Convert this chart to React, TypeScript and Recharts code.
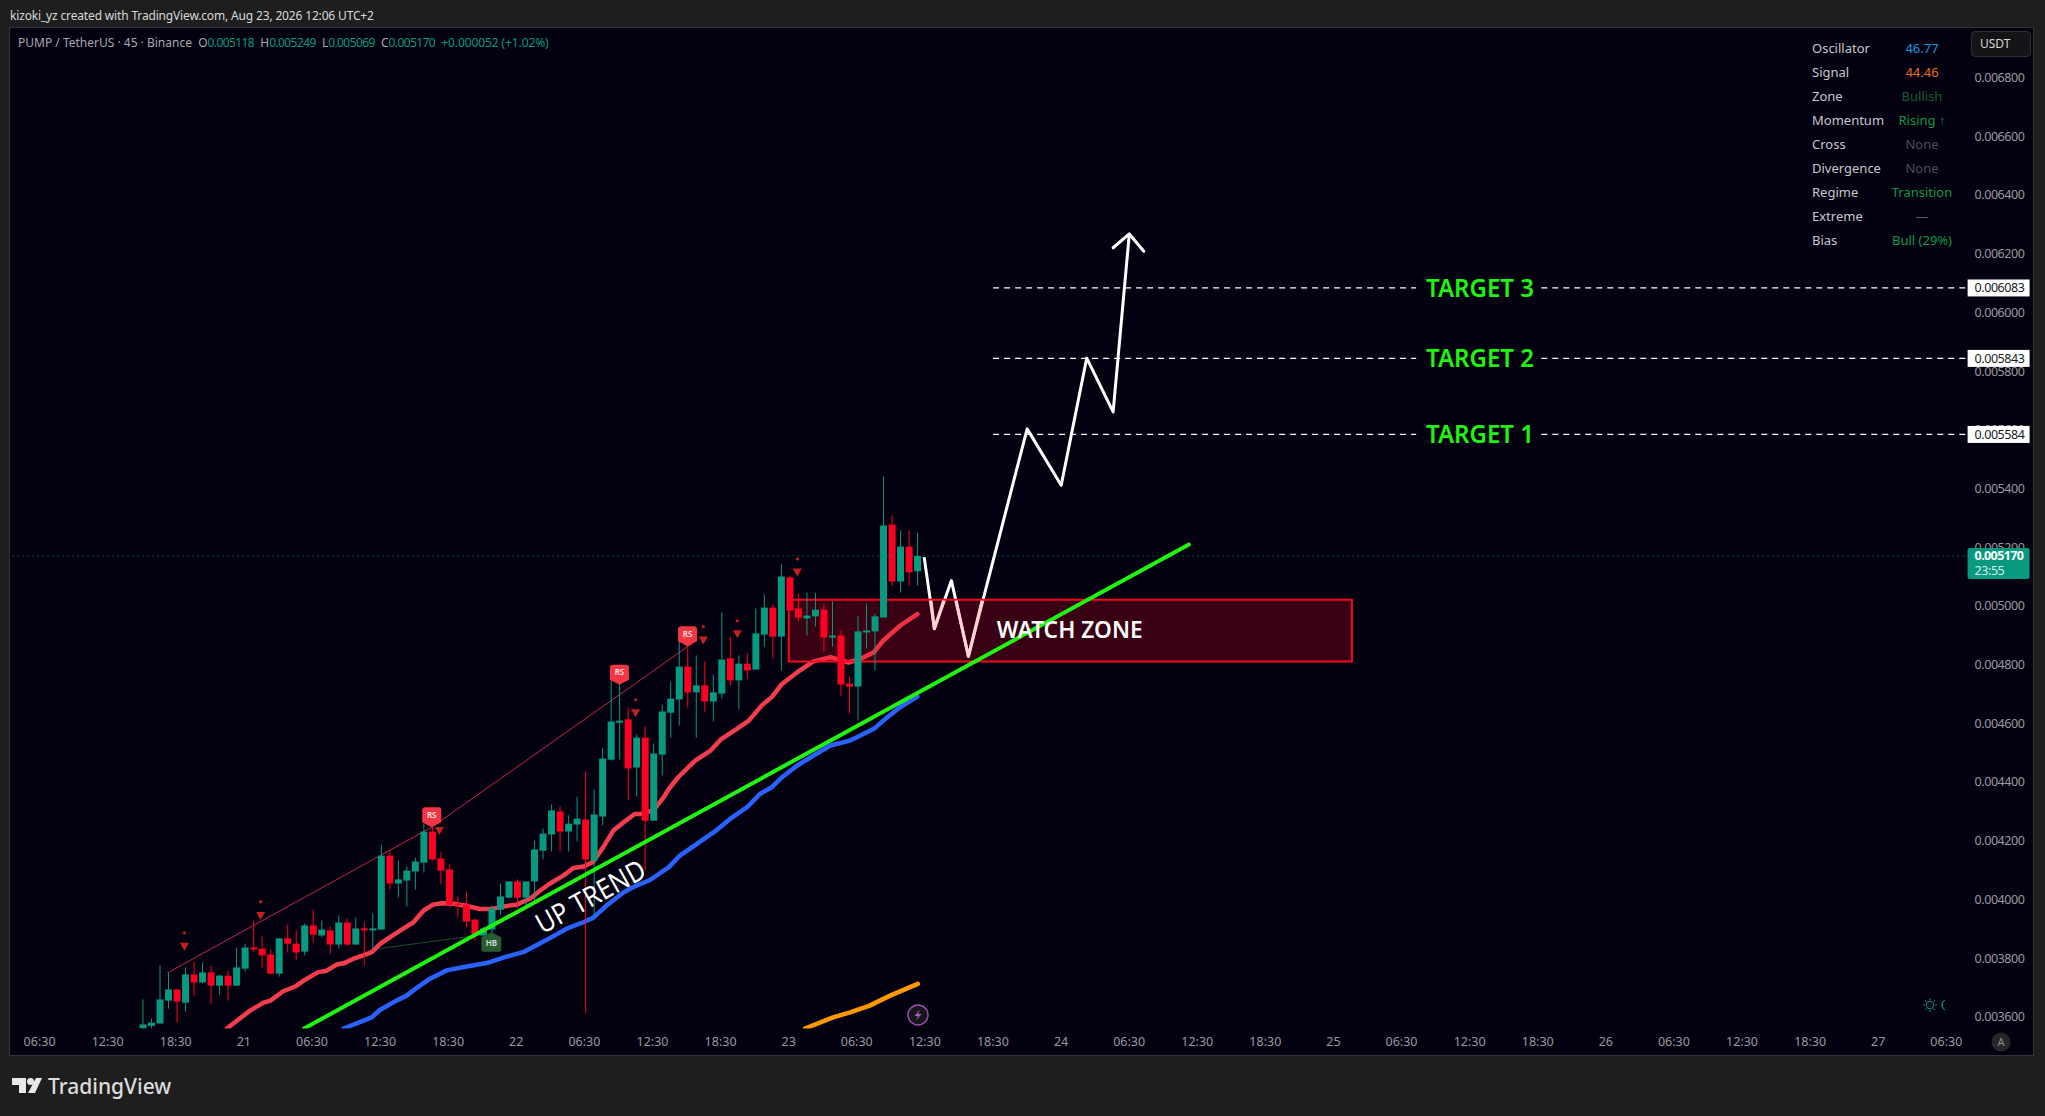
import {
  ComposedChart,
  Bar,
  Line,
  XAxis,
  YAxis,
  ReferenceArea,
  ReferenceDot,
  ReferenceLine,
} from "recharts";

// prices are in millionths of USDT (3659 = 0.003659)
const opens = [
  3560, 3569, 3577, 3655, 3693, 3648, 3744, 3717, 3751, 3706, 3740, 3706, 3764, 3836, 3832, 3812, 3747, 3867, 3849, 3822, 3911, 3877, 3894,
  3846, 3921, 3846, 3901, 3898, 3897, 4149, 4054, 4064, 4095, 4125, 4231, 4139, 4102, 3986, 3982, 3931, 3877, 3897, 3965, 4006, 4061, 4006,
  4061, 4166, 4221, 4299, 4231, 4255, 4272, 4132, 4282, 4476, 4602, 4613, 4449, 4551, 4268, 4493, 4636, 4681, 4793, 4705, 4729, 4674, 4701,
  4821, 4746, 4803, 4783, 4902, 4994, 4895, 5097, 4991, 4957, 4964, 4987, 4892, 4899, 4735, 4725, 4913, 4913, 4960, 5277, 5083, 5202, 5118,
];
const highs = [
  3659, 3594, 3775, 3750, 3693, 3768, 3788, 3785, 3774, 3744, 3757, 3836, 3849, 3928, 3873, 3829, 3867, 3914, 3894, 3918, 3965, 3928, 3907,
  3945, 3935, 3938, 3921, 3952, 4187, 4166, 4132, 4112, 4142, 4258, 4257, 4160, 4119, 4010, 4027, 3935, 3907, 3979, 4054, 4061, 4068, 4061,
  4200, 4241, 4323, 4316, 4286, 4350, 4436, 4374, 4517, 4755, 4745, 4654, 4562, 4589, 4531, 4664, 4742, 4882, 4865, 4831, 4810, 4766, 4977,
  4896, 4831, 4838, 4991, 5039, 5005, 5144, 5103, 5042, 5045, 5045, 5005, 5015, 4916, 4759, 4964, 5008, 4974, 5441, 5308, 5257, 5257, 5249,
];
const lows = [
  3559, 3560, 3577, 3628, 3580, 3618, 3672, 3713, 3645, 3676, 3655, 3706, 3754, 3822, 3768, 3744, 3737, 3819, 3792, 3809, 3853, 3870, 3815,
  3832, 3843, 3846, 3775, 3829, 3897, 4033, 4006, 3976, 4033, 4091, 4132, 4051, 3972, 3938, 3904, 3860, 3860, 3882, 3948, 4003, 3969, 3979,
  3996, 4136, 4163, 4163, 4163, 4197, 3611, 3941, 4252, 4473, 4476, 4337, 4350, 4098, 4268, 4422, 4551, 4592, 4654, 4551, 4640, 4606, 4684,
  4729, 4647, 4752, 4783, 4861, 4821, 4780, 4984, 4947, 4899, 4930, 4844, 4861, 4694, 4633, 4609, 4855, 4780, 4960, 5069, 5045, 5069, 5069,
];
const closes = [
  3574, 3580, 3659, 3693, 3652, 3744, 3717, 3751, 3706, 3740, 3706, 3768, 3836, 3834, 3809, 3747, 3867, 3849, 3819, 3911, 3880, 3897, 3846,
  3921, 3846, 3901, 3898, 3901, 4149, 4054, 4068, 4098, 4129, 4231, 4136, 4098, 3982, 3984, 3924, 3880, 3901, 3969, 4010, 4061, 4006, 4061,
  4170, 4224, 4303, 4231, 4258, 4275, 4136, 4289, 4480, 4606, 4609, 4446, 4551, 4268, 4497, 4640, 4684, 4793, 4705, 4729, 4674, 4705, 4817,
  4746, 4803, 4780, 4906, 4994, 4895, 5100, 4984, 4960, 4967, 4987, 4892, 4899, 4732, 4725, 4913, 4916, 4964, 5274, 5083, 5202, 5114, 5170,
];

// [bar position, price]
const redAverage = [
  [9.87, 3560], [12.6, 3621], [14.2, 3648], [15, 3655], [16.5, 3687], [17.9, 3703], [18.9, 3723], [20.6, 3752], [21.6, 3757], [22.8, 3778],
  [23.6, 3782], [24.7, 3797], [25.9, 3809], [26.9, 3820], [27.9, 3848], [29.05, 3871], [30.6, 3900], [31.8, 3922], [33, 3962], [34.1, 3982],
  [35.1, 3987], [36.5, 3985], [38.05, 3978], [39.6, 3967], [41, 3967], [42.4, 3976], [43.9, 3982], [45.5, 4002], [46.7, 4030], [47.8, 4053],
  [49.4, 4081], [50.6, 4107], [51.8, 4112], [52.9, 4127], [54.1, 4178], [55.3, 4235], [56.5, 4263], [57.8, 4291], [58.6, 4291], [60, 4303],
  [61.2, 4348], [61.8, 4376], [62.9, 4416], [64.9, 4473], [66.7, 4507], [68, 4547], [69.8, 4581], [71.2, 4609], [72.7, 4660], [73.9, 4689],
  [75.1, 4734], [76.9, 4774], [78.8, 4811], [80.8, 4825], [81.9, 4816], [82.9, 4807], [84.3, 4819], [85.9, 4842], [87, 4882], [89, 4933],
  [91, 4972],
];
const blueAverage = [
  [23.6, 3560], [26.9, 3598], [27.9, 3624], [29.8, 3655], [31, 3672], [32.4, 3703], [33.7, 3729], [35.7, 3758], [38.05, 3771], [40.4, 3783],
  [42.75, 3805], [44.7, 3820], [47.45, 3862], [49.8, 3900], [51.75, 3922], [52.9, 3937], [54.5, 3979], [56.5, 4024], [58, 4047], [59.6, 4066],
  [61.8, 4110], [63.1, 4149], [65.1, 4189], [67.1, 4229], [69, 4274], [71, 4314], [72.5, 4359], [73.9, 4382], [75.1, 4416], [76.9, 4456],
  [78.8, 4490], [80.8, 4524], [83.1, 4541], [85.9, 4581], [87, 4609], [89, 4655], [91, 4691],
];
const orangeAverage = [
  [77.8, 3560], [81.1, 3598], [83.1, 3615], [85.4, 3638], [87.8, 3672], [91.05, 3712],
];
const trendLine = [[18.95, 3560], [122.9, 5209]];
const forecastPath = [
  [91.8, 5166], [93, 4922], [95, 5086], [97, 4828], [103.9, 5603], [107.9, 5411], [110.9, 5844], [114, 5661], [115.9, 6267],
];
// the parts of the forecast that show through the zone tint
const forecastInZoneA = [[92.6, 5018], [93, 4922], [94.1, 5018]];
const forecastInZoneB = [[95.55, 5018], [97, 4828], [98.6, 5018]];
const forecastArrow = [[114, 6220], [115.9, 6267], [117.6, 6208]];
const channelLine = [[2.94, 3750], [33.95, 4246], [64.5, 4871]];
const hiddenBullLine = [[26.9, 3829], [40, 3880]];

const targetPrices = [6083, 5843, 5584];
const targetLabels = ["TARGET 3", "TARGET 2", "TARGET 1"];
const targetBars = [99.9, 149.6, 164.3, 214.5];
const targetTextBar = 157.1;

const zoneBars = [75.9, 142.05];
const zonePrices = [4810, 5021];
const lastPrice = 5170;

const sellTriangles = [
  [4.9, 3840], [13.85, 3945], [34.85, 4235], [57.9, 4636], [65.85, 4884], [69.85, 4905], [76.9, 5115],
];
const sellDots = [
  [4.9, 3886], [13.85, 3992], [57.9, 4680], [65.85, 4929], [69.85, 4949], [76.9, 5160],
];
const rsFlags = [[33.95, 4246], [56, 4731], [64, 4862]];
const hbFlags = [[40.95, 3888]];

const priceTicks = [3600, 3800, 4000, 4200, 4400, 4600, 4800, 5000, 5200, 5400, 5600, 5800, 6000, 6200, 6400, 6600, 6800];
const timeLabels = [
  "06:30", "12:30", "18:30", "21", "06:30", "12:30", "18:30", "22", "06:30", "12:30", "18:30", "23", "06:30", "12:30", "18:30",
  "24", "06:30", "12:30", "18:30", "25", "06:30", "12:30", "18:30", "26", "06:30", "12:30", "18:30", "27", "06:30",
];
const statNames = ["Oscillator", "Signal", "Zone", "Momentum", "Cross", "Divergence", "Regime", "Extreme", "Bias"];
const statValues = ["46.77", "44.46", "Bullish", "Rising ↑", "None", "None", "Transition", "—", "Bull (29%)"];
const statColors = ["#1c96e0", "#e8701c", "#14602e", "#0e9a48", "#4c4c5c", "#4c4c5c", "#0e9a48", "#5c5c66", "#0e9a48"];

const firstBar = -15;
const barCount = 230;
const rows = Array.from({ length: barCount }, (_, n) => {
  const slot = firstBar + n;
  if (slot < 0 || slot >= opens.length) return { slot };
  return { slot, open: opens[slot], close: closes[slot], range: [lows[slot], highs[slot]] };
});
const timeTicks = timeLabels.map((_, n) => -12 + n * 8);
const labelBySlot = new Map(timeTicks.map((t, n) => [t, timeLabels[n]]));
const points = (list: number[][]) => list.map(([x, price]) => ({ x, price }));

const GREEN = "#089981";
const RED = "#ff0022";
const BRIGHT_GREEN = "#1ff50f";
const FONT = "'Noto Sans', sans-serif";
const AXIS_TEXT = "#9a9a9e";
const AXIS_SPACING = -0.45;

function Candle(props: any) {
  const { x, y, width, height, payload } = props;
  if (!payload.range) return null;
  const [low, high] = payload.range;
  const perUnit = height / (high - low);
  const top = y + (high - Math.max(payload.open, payload.close)) * perUnit;
  const bottom = y + (high - Math.min(payload.open, payload.close)) * perUnit;
  const color = payload.close >= payload.open ? GREEN : RED;
  const mid = x + width / 2;
  return (
    <g>
      <line x1={mid} x2={mid} y1={y} y2={y + height} stroke={color} strokeWidth={1} />
      <rect x={mid - 3.5} y={top} width={7} height={Math.max(bottom - top, 2)} fill={color} />
    </g>
  );
}

function SellTriangle({ cx, cy }: any) {
  return <path d={`M${cx - 4.5} ${cy - 3.5} h9 l-4.5 8 z`} fill="#c4201f" />;
}

function SellDot({ cx, cy }: any) {
  return <circle cx={cx} cy={cy} r={1.6} fill="#c4201f" />;
}

function RsFlag({ cx, cy }: any) {
  return (
    <g>
      <path
        d={`M${cx} ${cy} l-9.5 -5 v-12 a3 3 0 0 1 3 -3 h13 a3 3 0 0 1 3 3 v12 z`}
        fill="#f23645"
      />
      <text x={cx} y={cy - 9.5} textAnchor="middle" fontSize={8} fontWeight={600} fontFamily={FONT} fill="#ffe3e3">
        RS
      </text>
    </g>
  );
}

function HbFlag({ cx, cy }: any) {
  return (
    <g>
      <path
        d={`M${cx} ${cy} l10 5 v12 a2.5 2.5 0 0 1 -2.5 2.5 h-15 a2.5 2.5 0 0 1 -2.5 -2.5 v-12 z`}
        fill="#2a5c34"
      />
      <text x={cx} y={cy + 14} textAnchor="middle" fontSize={8} fontWeight={600} fontFamily={FONT} fill="#d8e4da">
        HB
      </text>
    </g>
  );
}

function PriceTick({ x, y, payload }: any) {
  const value = payload.value;
  const text = (value / 1000000).toFixed(6);
  if (value === lastPrice) {
    return (
      <g>
        <rect x={x - 9} y={y - 8} width={62} height={31} rx={2} fill={GREEN} />
        <text x={x - 2} y={y + 4} fontSize={12.5} fontWeight={700} letterSpacing={-0.6} fontFamily={FONT} fill="#ffffff">
          {text}
        </text>
        <text x={x - 2} y={y + 19} fontSize={12.5} letterSpacing={AXIS_SPACING} fontFamily={FONT} fill="#d5efe9">
          23:55
        </text>
      </g>
    );
  }
  if (targetPrices.includes(value)) {
    return (
      <g>
        <rect x={x - 9} y={y - 8.5} width={62} height={17} fill="#ffffff" />
        <text x={x - 2} y={y + 4.5} fontSize={12.5} letterSpacing={AXIS_SPACING} fontFamily={FONT} fill="#1a1a1a">
          {text}
        </text>
      </g>
    );
  }
  return (
    <text x={x - 2} y={y + 4.5} fontSize={12.5} letterSpacing={AXIS_SPACING} fontFamily={FONT} fill={AXIS_TEXT}>
      {text}
    </text>
  );
}

function TimeTick({ x, y, payload }: any) {
  return (
    <text x={x - 1} y={y + 9} textAnchor="middle" fontSize={12.5} fontFamily={FONT} fill={AXIS_TEXT}>
      {labelBySlot.get(payload.value)}
    </text>
  );
}

function drawing(key: string, list: number[][], color: string, width: number, extra: any = {}) {
  return (
    <Line
      key={key}
      xAxisId="bars"
      data={points(list)}
      dataKey="price"
      stroke={color}
      strokeWidth={width}
      dot={false}
      activeDot={false}
      legendType="none"
      isAnimationActive={false}
      strokeLinejoin="round"
      strokeLinecap="round"
      {...extra}
    />
  );
}

function marks(key: string, list: number[][], mark: any) {
  return (
    <Line
      key={key}
      xAxisId="bars"
      data={points(list)}
      dataKey="price"
      stroke="none"
      dot={mark}
      activeDot={false}
      isAnimationActive={false}
      zIndex={900}
    />
  );
}

export default function App() {
  return (
    <div
      style={{
        position: "absolute",
        left: 0,
        top: 0,
        width: 2045,
        height: 1116,
        overflow: "hidden",
        background: "#1e1e1e",
        fontFamily: FONT,
      }}
    >
      <div style={{ position: "absolute", left: 10, top: 7, fontSize: 12, letterSpacing: -0.16, color: "#d8d8d8" }}>
        kizoki_yz created with TradingView.com, Aug 23, 2026 12:06 UTC+2
      </div>
      <div
        style={{
          position: "absolute",
          left: 9,
          top: 27,
          width: 2025,
          height: 1029,
          background: "#03000f",
          boxSizing: "border-box",
          border: "1px solid #333336",
        }}
      />
      <div style={{ position: "absolute", inset: 0 }}>
        <ComposedChart
          width={2045}
          height={1116}
          data={rows}
          barCategoryGap={0}
          margin={{ top: 27.5, right: 11, bottom: 59.5, left: 10.8 }}
        >
          <XAxis
            dataKey="slot"
            scale="band"
            height={28}
            ticks={timeTicks}
            interval={0}
            axisLine={false}
            tickLine={false}
            tick={<TimeTick />}
          />
          <XAxis
            xAxisId="bars"
            type="number"
            dataKey="x"
            domain={[firstBar - 0.5, firstBar + barCount - 0.5]}
            allowDataOverflow
            hide
          />
          <YAxis
            orientation="right"
            width={65.4}
            domain={[3560, 6970.4]}
            allowDataOverflow
            ticks={[...priceTicks, ...targetPrices, lastPrice]}
            interval={0}
            axisLine={false}
            tickLine={false}
            tick={<PriceTick />}
          />

          <ReferenceLine y={lastPrice} stroke={GREEN} strokeDasharray="1 4" />
          {drawing("channel", channelLine, "#c22a40", 1, { zIndex: 50 })}
          {drawing("hb", hiddenBullLine, "#1f4a2a", 1, { zIndex: 50 })}
          {drawing("red", redAverage, "#f23d4f", 4.5, { zIndex: 60 })}
          {drawing("blue", blueAverage, "#2962ff", 4.5, { zIndex: 60 })}
          {drawing("orange", orangeAverage, "#ff9800", 4.5, { zIndex: 60 })}
          {drawing("forecast", forecastPath, "#ffffff", 3, { zIndex: 70, strokeLinecap: "butt" })}
          {drawing("arrow", forecastArrow, "#ffffff", 3, { zIndex: 70 })}

          <ReferenceArea
            xAxisId="bars"
            x1={zoneBars[0]}
            x2={zoneBars[1]}
            y1={zonePrices[0]}
            y2={zonePrices[1]}
            fill="#f5001e"
            fillOpacity={0.22}
            stroke="#f5081f"
            strokeWidth={2}
            zIndex={80}
          />
          {drawing("zoneA", forecastInZoneA, "#ffd2d8", 3, { zIndex: 90, strokeLinecap: "butt" })}
          {drawing("zoneB", forecastInZoneB, "#ffd2d8", 3, { zIndex: 90, strokeLinecap: "butt" })}

          <Bar dataKey="range" shape={<Candle />} isAnimationActive={false} zIndex={300} />

          {drawing("trend", trendLine, BRIGHT_GREEN, 4, { zIndex: 400 })}

          {targetPrices.map((price) => (
            <ReferenceLine
              key={`a${price}`}
              xAxisId="bars"
              stroke="#ffffff"
              strokeWidth={1.2}
              strokeDasharray="6 5"
              segment={[{ x: targetBars[0], y: price }, { x: targetBars[1], y: price }]}
            />
          ))}
          {targetPrices.map((price) => (
            <ReferenceLine
              key={`b${price}`}
              xAxisId="bars"
              stroke="#ffffff"
              strokeWidth={1.2}
              strokeDasharray="6 5"
              segment={[{ x: targetBars[2], y: price }, { x: targetBars[3], y: price }]}
            />
          ))}
          {targetPrices.map((price, n) => (
            <ReferenceDot
              key={`t${price}`}
              xAxisId="bars"
              x={targetTextBar}
              y={price}
              r={0}
              shape={({ cx, cy }: any) => (
                <text
                  x={cx}
                  y={cy + 9}
                  textAnchor="middle"
                  fontSize={25}
                  fontWeight={600}
                  fontFamily={FONT}
                  fill={BRIGHT_GREEN}
                  textLength={108}
                  lengthAdjust="spacingAndGlyphs"
                >
                  {targetLabels[n]}
                </text>
              )}
            />
          ))}
          <ReferenceDot
            xAxisId="bars"
            x={108.9}
            y={4919}
            r={0}
            shape={({ cx, cy }: any) => (
              <text
                x={cx}
                y={cy + 8.5}
                textAnchor="middle"
                fontSize={24}
                fontWeight={600}
                fontFamily={FONT}
                fill="#ffffff"
                textLength={146}
                lengthAdjust="spacingAndGlyphs"
              >
                WATCH ZONE
              </text>
            )}
          />
          <ReferenceDot
            xAxisId="bars"
            x={52.6}
            y={4010}
            r={0}
            shape={({ cx, cy }: any) => (
              <text
                x={cx}
                y={cy + 10}
                textAnchor="middle"
                fontSize={28}
                fontFamily={FONT}
                fill="#ffffff"
                textLength={121}
                lengthAdjust="spacingAndGlyphs"
                transform={`rotate(-29 ${cx} ${cy})`}
              >
                UP TREND
              </text>
            )}
          />

          {marks("tri", sellTriangles, <SellTriangle />)}
          {marks("dots", sellDots, <SellDot />)}
          {marks("rs", rsFlags, <RsFlag />)}
          {marks("hb2", hbFlags, <HbFlag />)}
        </ComposedChart>
      </div>

      {/* legend line */}
      <div style={{ position: "absolute", left: 18, top: 34, fontSize: 12, color: "#a8a8ac", whiteSpace: "pre" }}>
        PUMP / TetherUS · 45 · Binance{"  "}O<span style={{ color: GREEN, letterSpacing: -0.6 }}>0.005118</span>
        {"  "}H<span style={{ color: GREEN, letterSpacing: -0.6 }}>0.005249</span>
        {"  "}L<span style={{ color: GREEN, letterSpacing: -0.6 }}>0.005069</span>
        {"  "}C<span style={{ color: GREEN, letterSpacing: -0.6 }}>0.005170</span>
        {"  "}
        <span style={{ color: GREEN, letterSpacing: -0.1 }}>+0.000052 (+1.02%)</span>
      </div>

      {/* status table */}
      {statNames.map((name, n) => (
        <div key={name}>
          <div style={{ position: "absolute", left: 1812, top: 39 + n * 24, fontSize: 13, color: "#c8c8cc" }}>{name}</div>
          <div
            style={{
              position: "absolute",
              left: 1862,
              width: 120,
              textAlign: "center",
              top: 39 + n * 24,
              fontSize: 13,
              color: statColors[n],
            }}
          >
            {statValues[n]}
          </div>
        </div>
      ))}

      <div
        style={{
          position: "absolute",
          left: 1971,
          top: 31,
          width: 60,
          height: 26,
          boxSizing: "border-box",
          border: "1px solid #2e2e32",
          borderRadius: 4,
          background: "#141416",
          color: "#d8d8d8",
          fontSize: 12,
          lineHeight: "24px",
          paddingLeft: 8,
        }}
      >
        USDT
      </div>

      {/* footer logo */}
      <svg style={{ position: "absolute", left: 0, top: 1070 }} width={50} height={30}>
        <path d="M12 8 h14 v15 h-7 v-8 h-7 z" fill="#e8e8e8" />
        <circle cx={30.5} cy={11.5} r={3.5} fill="#e8e8e8" />
        <path d="M36 8 h6 l-7 15 h-7 z" fill="#e8e8e8" />
      </svg>
      <div style={{ position: "absolute", left: 48, top: 1072, fontSize: 21, fontWeight: 500, color: "#dcdcdc" }}>TradingView</div>

      {/* small pane icons */}
      <svg style={{ position: "absolute", left: 906, top: 1003 }} width={24} height={24}>
        <circle cx={12} cy={12} r={10} fill="#17171b" stroke="#a04db5" strokeWidth={1.4} />
        <path d="M14 6.5 L8.5 13 h3.5 l-2 4.5 L15.5 11 h-3.5 z" fill="#a85cc8" />
      </svg>
      <svg style={{ position: "absolute", left: 1922, top: 995 }} width={26} height={20} fill="none" stroke="#0f8f80" strokeWidth={1}>
        <circle cx={8} cy={10} r={3.8} />
        <path d="M8 3 v2 M8 15 v2 M1 10 h2 M13 10 h2 M3 5 l1.4 1.4 M11.6 13.6 L13 15 M3 15 l1.4 -1.4 M11.6 6.4 L13 5" />
        <path d="M23 5 a5.5 5.5 0 0 0 0 10 a6 6 0 0 1 0 -10 z" />
      </svg>
      <svg style={{ position: "absolute", left: 1991, top: 1032 }} width={20} height={20}>
        <circle cx={10} cy={10} r={9.5} fill="#26262a" />
        <text x={10} y={14} textAnchor="middle" fontSize={11} fontFamily={FONT} fill="#8c8c90">
          A
        </text>
      </svg>
    </div>
  );
}
